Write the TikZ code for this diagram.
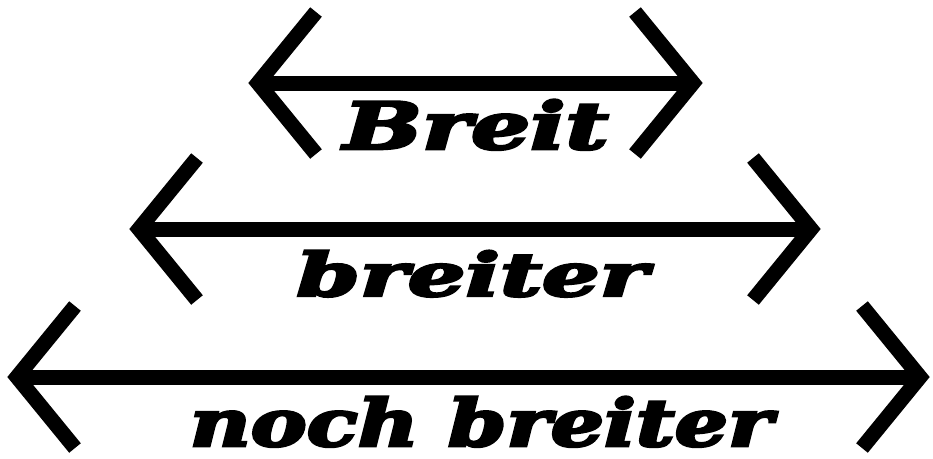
\documentclass[tikz,border=0pt]{standalone}
\usepackage{fontspec}
\newfontfamily\heavyserif{DejaVu Serif}[BoldItalicFeatures={FakeBold=4}]
\usetikzlibrary{positioning}
\tikzset{
  shaft/.style={line width=0.3cm,line cap=butt},
  barb/.style={line width=0.3cm,line cap=butt,line join=miter,miter limit=4},
  word/.style={anchor=base,inner sep=0pt,transform shape,font=\heavyserif\bfseries\itshape}
}

\begin{document}
\begin{tikzpicture}[x=0.02cm,y=-0.02cm]
\useasboundingbox (0,0) rectangle (933,458);
% three arrows, each wider than the one above
\foreach \n/\y/\xl/\xr in {1/83/249/702,2/229/130/820,3/377/8/929}{
 \coordinate (l\n) at (\xl+9,\y);
 \coordinate (r\n) at (\xr-9,\y);
 \draw[shaft] (l\n) -- (r\n);
 \draw[barb] (l\n) ++(58,-71) -- (l\n) -- ++(58,71);
 \draw[barb] (r\n) ++(-58,-71) -- (r\n) -- ++(-58,71);}
\node[word,xscale=1.43,font=\heavyserif\bfseries\itshape\fontsize{37}{37}\selectfont] (w1) at (476,149) {Breit};
\node[word,xscale=1.52,font=\heavyserif\bfseries\itshape\fontsize{34}{34}\selectfont] (w2) at (472,296) {breiter};
\node[word,xscale=1.29,font=\heavyserif\bfseries\itshape\fontsize{37}{37}\selectfont] (w3) at (481,446) {noch breiter};
\end{tikzpicture}
\end{document}
